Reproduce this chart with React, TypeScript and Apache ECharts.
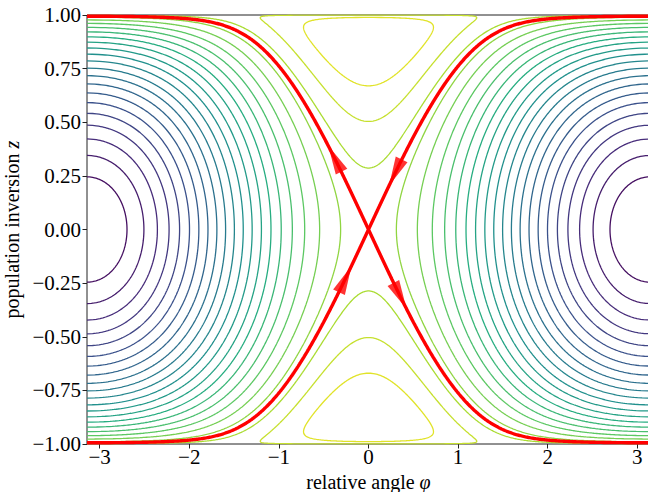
import { useEffect, useRef } from "react";
import * as echarts from "echarts";

// Hamiltonian H(φ, z) = A·z² + sqrt(1 − z²)·cos φ  (A = Λ/2)
const A_COEF = 1.12;
// contour levels (crossings of z = 0 and φ = 0)
const contourLevels = [
  -0.902, -0.805, -0.707, -0.609, -0.512, -0.414, -0.317, -0.219, -0.121, -0.024,
  0.074, 0.172, 0.269, 0.367, 0.464, 0.562, 0.66, 0.757, 0.855, 0.952,
  1.05, 1.148, 1.245,
];
const colorRange = [-1.0, 1.343];
const separatrixLevel = 1.0;
const xTickValues = [-3, -2, -1, 0, 1, 2, 3];
// arrows on the separatrix: z of the arrow tip, branch side (sign of φ), +1 outward / -1 inward
const arrowTipZ = [0.39, 0.205, -0.17, -0.37];
const arrowSide = [-1, 1, -1, 1];
const arrowOut = [1, -1, -1, 1];

const viridisStops = [
  "#440154", "#472c7a", "#3b518b", "#2c718e", "#21908d",
  "#27ad81", "#5cc863", "#aadc32", "#fde725",
];

const GRID = { left: 87, top: 15, width: 563, height: 429 };
const FONT = "'Liberation Serif', 'Times New Roman', serif";
const TICK_FS = 21;
const NAME_FS = 20;
const ARROW_LEN = 29;
const ARROW_W = 13;

function hexToRgb(h: string) {
  return [1, 3, 5].map((i) => parseInt(h.slice(i, i + 2), 16));
}
function viridis(t: number) {
  t = Math.max(0, Math.min(1, t));
  const x = t * (viridisStops.length - 1);
  const i = Math.min(Math.floor(x), viridisStops.length - 2);
  const f = x - i;
  const a = hexToRgb(viridisStops[i]);
  const b = hexToRgb(viridisStops[i + 1]);
  const c = a.map((v, k) => Math.round(v + (b[k] - v) * f));
  return `rgb(${c[0]},${c[1]},${c[2]})`;
}

type Pt = { z: number; phi: number };
function levelCurves(c: number, a: number, n = 1600): number[][][] {
  const g = (z: number) => (c - a * z * z) / Math.sqrt(1 - z * z);
  const ok = (z: number) => {
    const v = g(z);
    return v >= -1 && v <= 1;
  };
  const edge = (zIn: number, zOut: number): Pt => {
    let lo = zIn, hi = zOut;
    for (let k = 0; k < 60; k++) {
      const m = (lo + hi) / 2;
      if (ok(m)) lo = m; else hi = m;
    }
    return { z: lo, phi: g(hi) > 1 ? 0 : Math.PI };
  };
  const runs: Pt[][] = [];
  let cur: Pt[] | null = null;
  let prevZ = NaN, prevOk = false;
  for (let i = 1; i < n; i++) {
    const z = Math.sin(-Math.PI / 2 + (Math.PI * i) / n);
    const isOk = ok(z);
    if (isOk && !prevOk) {
      cur = [];
      if (i > 1) cur.push(edge(z, prevZ));
      runs.push(cur);
    }
    if (!isOk && prevOk && cur) {
      cur.push(edge(prevZ, z));
      cur = null;
    }
    if (isOk && cur) cur.push({ z, phi: Math.acos(Math.max(-1, Math.min(1, g(z)))) });
    prevZ = z;
    prevOk = isOk;
  }
  const lines: number[][][] = [];
  for (const r of runs) {
    if (r.length < 2) continue;
    const P = r.map((p) => [p.phi, p.z]);
    const M = r.map((p) => [-p.phi, p.z]).reverse();
    const js = r[0].phi === 0;
    const je = r[r.length - 1].phi === 0;
    if (je) lines.push([...P, ...M.slice(1)]);
    else if (js) lines.push([...M, ...P.slice(1)]);
    else {
      lines.push(P);
      lines.push(M);
    }
  }
  return lines;
}

export default function App() {
  const ref = useRef<HTMLDivElement>(null);
  useEffect(() => {
    document.body.style.margin = "0";
    if (!ref.current) return;
    const chart = echarts.init(ref.current, null, { renderer: "svg" });

    const series: any[] = [];
    const [cmin, cmax] = colorRange;
    contourLevels.forEach((lv) => {
      const color = viridis((lv - cmin) / (cmax - cmin));
      levelCurves(lv, A_COEF).forEach((line) => {
        series.push({
          type: "line",
          data: line,
          showSymbol: false,
          symbol: "none",
          silent: true,
          lineStyle: { color, width: 1.3 },
          z: 2,
        });
      });
    });
    levelCurves(separatrixLevel, A_COEF).forEach((line) => {
      series.push({
        type: "line",
        data: line,
        showSymbol: false,
        symbol: "none",
        silent: true,
        lineStyle: { color: "#ff0000", width: 3.4 },
        z: 5,
      });
    });

    // arrows: tip on the separatrix, direction along its tangent
    const sx = GRID.width / (2 * Math.PI);
    const sy = GRID.height / 2;
    const arrowData = arrowTipZ.map((z, k) => {
      const w = Math.sqrt(1 - z * z);
      const phi = arrowSide[k] * Math.acos((separatrixLevel - A_COEF * z * z) / w);
      const Hphi = -w * Math.sin(phi);
      const Hz = 2 * A_COEF * z - (z * Math.cos(phi)) / w;
      let tphi = Hz, tz = -Hphi;
      const dot = tphi * phi + tz * z;
      if ((arrowOut[k] > 0 && dot < 0) || (arrowOut[k] < 0 && dot > 0)) {
        tphi = -tphi;
        tz = -tz;
      }
      const px = tphi * sx, py = tz * sy; // pixel direction, y up
      const len = Math.hypot(px, py);
      const ux = px / len, uy = py / len;
      const cphi = phi - (ux * ARROW_LEN) / 2 / sx;
      const cz = z - (uy * ARROW_LEN) / 2 / sy;
      const ang = (Math.atan2(uy, ux) * 180) / Math.PI;
      return { value: [cphi, cz], symbolRotate: ang - 90 };
    });
    series.push({
      type: "scatter",
      data: arrowData,
      symbol: "path://M5 0 L10 30 L0 30 Z",
      symbolSize: [ARROW_W, ARROW_LEN],
      itemStyle: { color: "#ff0000" },
      silent: true,
      z: 6,
    });

    const minus = (s: string) => s.replace("-", "\u2212");
    const nameStyle = {
      color: "#000",
      fontFamily: FONT,
      fontSize: NAME_FS,
      lineHeight: NAME_FS,
      rich: {
        r: { fontFamily: FONT, fontSize: NAME_FS, lineHeight: NAME_FS, color: "#000" },
        i: { fontFamily: FONT, fontSize: NAME_FS, lineHeight: NAME_FS, color: "#000", fontStyle: "italic" },
      },
    };
    chart.setOption({
      animation: false,
      grid: {
        ...GRID,
        containLabel: false,
        outerBoundsMode: "none",
        show: true,
        borderColor: "#222",
        borderWidth: 1,
        backgroundColor: "transparent",
      },
      xAxis: {
        type: "value",
        min: -Math.PI,
        max: Math.PI,
        axisLine: { show: false, onZero: false },
        splitLine: { show: false },
        axisTick: { show: true, length: 4.5, customValues: xTickValues, lineStyle: { color: "#222" } },
        axisLabel: {
          customValues: xTickValues,
          margin: 2,
          color: "#000",
          fontFamily: FONT,
          fontSize: TICK_FS,
          formatter: (v: number) => minus(String(Math.round(v))),
        },
        name: "{r|relative angle }{i|\u03c6}",
        nameLocation: "middle",
        nameGap: 21,
        nameTextStyle: nameStyle,
      },
      yAxis: {
        type: "value",
        min: -1,
        max: 1,
        interval: 0.25,
        axisLine: { show: false, onZero: false },
        splitLine: { show: false },
        axisTick: { show: true, length: 4.5, lineStyle: { color: "#222" } },
        axisLabel: {
          margin: 6,
          color: "#000",
          fontFamily: FONT,
          fontSize: TICK_FS,
          formatter: (v: number) => minus(v.toFixed(2)),
        },
        name: "{r|population inversion }{i|z}",
        nameLocation: "middle",
        nameGap: 61,
        nameTextStyle: nameStyle,
      },
      series,
    });
    return () => chart.dispose();
  }, []);
  return <div ref={ref} style={{ width: 648, height: 492 }} />;
}
